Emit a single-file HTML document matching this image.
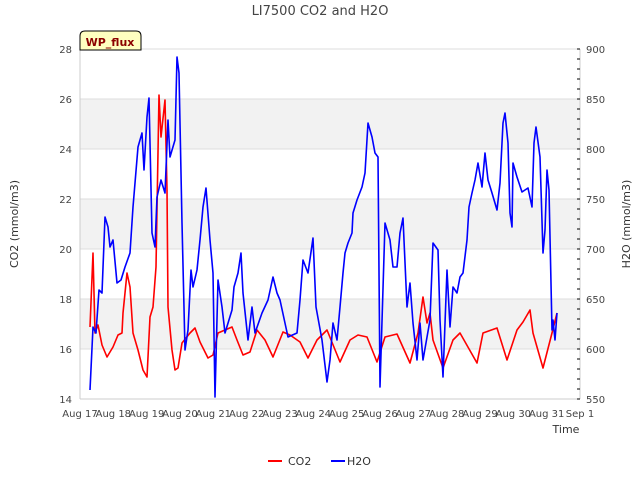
<!DOCTYPE html>
<html><head><meta charset="utf-8"><style>
body{margin:0;background:#fff;font-family:"Liberation Sans",sans-serif}
svg text{font-family:"DejaVu Sans","Liberation Sans",sans-serif}
</style></head><body>
<svg id="chart" width="640" height="480" viewBox="0 0 640 480" xmlns="http://www.w3.org/2000/svg">
<g id="bg"></g>
<g id="grid"></g>
<g id="series"></g>
<g id="axes"></g>
<text x="320" y="15" text-anchor="middle" font-size="13" fill="#444">LI7500 CO2 and H2O</text>
<g>
<path d="M80,50 L80,36 Q80,31 85,31 L136,31 Q141,31 141,36 L141,50 Z" fill="#ffffc0" stroke="#000" stroke-width="1"/>
<text x="110" y="46" text-anchor="middle" font-size="11" font-weight="bold" fill="#8b0000">WP_flux</text>
</g>
<text x="566" y="433" text-anchor="middle" font-size="11" fill="#333">Time</text>
<text transform="translate(18,224) rotate(-90)" text-anchor="middle" font-size="11" fill="#333">CO2 (mmol/m3)</text>
<text transform="translate(630,224) rotate(-90)" text-anchor="middle" font-size="11" fill="#333">H2O (mmol/m3)</text>
<g>
<line x1="268" y1="461" x2="282" y2="461" stroke="#f00" stroke-width="2"/>
<text x="288" y="465" font-size="11" fill="#333">CO2</text>
<line x1="331" y1="461" x2="345" y2="461" stroke="#00f" stroke-width="2"/>
<text x="347" y="465" font-size="11" fill="#333">H2O</text>
</g>
</svg>
<script>
const xTickLabels=["Aug 17","Aug 18","Aug 19","Aug 20","Aug 21","Aug 22","Aug 23","Aug 24","Aug 25","Aug 26","Aug 27","Aug 28","Aug 29","Aug 30","Aug 31","Sep 1"];
const leftTicks=[14,16,18,20,22,24,26,28];
const rightTicks=[550,600,650,700,750,800,850,900];
const co2Days=[0.30,0.39,0.45,0.54,0.66,0.81,0.99,1.14,1.26,1.29,1.41,1.50,1.59,1.74,1.89,2.01,2.10,2.19,2.28,2.37,2.43,2.55,2.61,2.64,2.76,2.85,2.94,3.06,3.30,3.45,3.60,3.84,3.99,4.14,4.56,4.71,4.89,5.10,5.31,5.55,5.79,6.09,6.30,6.60,6.84,7.11,7.41,7.80,8.10,8.34,8.61,8.91,9.15,9.51,9.90,10.14,10.29,10.41,10.50,10.59,10.89,11.19,11.40,11.91,12.09,12.51,12.81,13.11,13.29,13.50,13.59,13.89,14.16,14.31];
const co2Vals=[16.88,19.84,16.64,16.96,16.16,15.68,16.08,16.56,16.64,17.44,19.04,18.48,16.64,15.96,15.16,14.88,17.28,17.68,19.28,26.16,24.48,25.96,22.36,17.68,15.96,15.16,15.24,16.24,16.64,16.84,16.28,15.64,15.76,16.64,16.88,16.36,15.76,15.88,16.76,16.36,15.68,16.68,16.56,16.28,15.64,16.36,16.76,15.48,16.36,16.56,16.48,15.48,16.48,16.60,15.44,16.64,18.08,17.04,17.44,16.36,15.24,16.36,16.64,15.44,16.64,16.84,15.56,16.76,17.08,17.56,16.64,15.24,16.64,17.44];
const h2oDays=[0.30,0.39,0.48,0.57,0.66,0.75,0.84,0.90,0.99,1.11,1.23,1.35,1.50,1.59,1.74,1.86,1.92,2.01,2.07,2.16,2.25,2.31,2.43,2.55,2.64,2.70,2.85,2.91,2.97,3.06,3.15,3.24,3.33,3.39,3.51,3.60,3.69,3.78,3.90,3.99,4.05,4.14,4.26,4.35,4.56,4.62,4.74,4.83,4.89,5.04,5.16,5.25,5.46,5.64,5.79,5.91,6.00,6.24,6.51,6.60,6.69,6.84,6.99,7.08,7.26,7.41,7.50,7.59,7.71,7.80,7.89,7.95,8.04,8.16,8.19,8.31,8.46,8.55,8.64,8.76,8.85,8.94,9.00,9.15,9.30,9.39,9.51,9.60,9.69,9.81,9.90,9.99,10.11,10.20,10.29,10.50,10.59,10.74,10.80,10.89,11.01,11.10,11.19,11.31,11.40,11.49,11.61,11.67,11.76,11.85,11.94,12.06,12.15,12.24,12.36,12.51,12.60,12.69,12.75,12.84,12.90,12.96,12.99,13.11,13.26,13.44,13.56,13.62,13.68,13.80,13.89,13.95,14.01,14.07,14.16,14.19,14.25,14.31];
const h2oVals=[559,622,616,659,656,732,722,702,709,666,669,682,696,742,802,816,779,832,851,716,702,752,769,756,829,792,809,892,876,726,599,619,679,662,679,709,742,761,709,676,552,669,642,616,639,662,676,696,656,609,642,616,636,649,672,656,649,612,616,649,689,676,711,642,609,567,589,626,609,642,676,696,706,716,736,749,762,776,826,812,796,792,562,726,709,682,682,716,731,642,666,626,589,626,589,629,706,699,629,572,679,622,662,656,672,676,709,742,756,769,786,762,796,769,756,739,766,826,836,806,736,722,786,772,757,761,742,806,822,792,696,719,779,759,619,629,609,636];

const NS="http://www.w3.org/2000/svg";
const L=80,R=580,T=49,B=399;
const xs=d=>L+d*(R-L)/15;
const yL=v=>B-(v-14)*(B-T)/14;
const yR=v=>B-(v-550)*(B-T)/350;
function mk(tag,attrs,parent){const e=document.createElementNS(NS,tag);for(const k in attrs)e.setAttribute(k,attrs[k]);parent.appendChild(e);return e;}
const bg=document.getElementById('bg'),grid=document.getElementById('grid'),ser=document.getElementById('series'),ax=document.getElementById('axes');
mk('rect',{x:L,y:T,width:R-L,height:B-T,fill:'#fff'},bg);
for(let i=0;i<leftTicks.length-1;i++){
  if(i%2===1){const r=mk('rect',{x:L,y:yL(leftTicks[i+1]),width:R-L,height:yL(leftTicks[i])-yL(leftTicks[i+1]),fill:'#f2f2f2'},bg);
  
  }
}
leftTicks.forEach(v=>{
  const g=mk('line',{x1:L,x2:R,y1:yL(v),y2:yL(v),stroke:'#ddd','stroke-width':1},grid);
  
  
  const t=mk('text',{x:L-8,y:yL(v)+4,'text-anchor':'end','font-size':10,fill:'#444'},ax);
  t.textContent=v;
  
  
});
mk('line',{x1:L,x2:L,y1:T,y2:B,stroke:'#ccc'},ax);
mk('line',{x1:R,x2:R,y1:T,y2:B,stroke:'#ccc'},ax);
mk('line',{x1:L,x2:R,y1:B,y2:B,stroke:'#ccc'},ax);
for(let v=550;v<=900;v+=10){mk('line',{x1:R-3,x2:R,y1:yR(v),y2:yR(v),stroke:'#000','stroke-width':1},ax);}
rightTicks.forEach(v=>{
  const t=mk('text',{x:R+6,y:yR(v)+4,'font-size':10,fill:'#444'},ax);
  t.textContent=v;
  
  
});
xTickLabels.forEach((s,i)=>{
  const t=mk('text',{x:xs(i),y:417,'text-anchor':'middle','font-size':10,fill:'#444'},ax);
  t.textContent=s;
  
  
});
function line(days,vals,yf,color,name){
  const p=days.map((d,i)=>xs(d).toFixed(1)+','+yf(vals[i]).toFixed(1)).join(' ');
  const e=mk('polyline',{points:p,fill:'none',stroke:color,'stroke-width':1.6,'stroke-linejoin':'round'},ser);
  
  
}
line(co2Days,co2Vals,yL,'#f00','co2-line');
line(h2oDays,h2oVals,yR,'#00f','h2o-line');
</script>
</body></html>
